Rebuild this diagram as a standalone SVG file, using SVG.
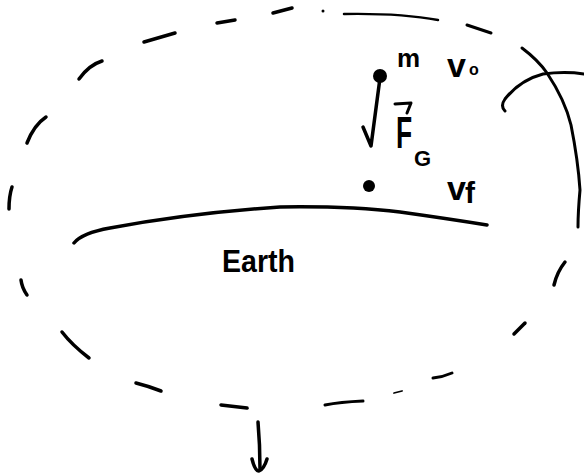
<svg xmlns="http://www.w3.org/2000/svg" width="584" height="476" viewBox="0 0 584 476">
<style>
.s{fill:none;stroke:#000;stroke-linecap:round;stroke-linejoin:round}
.d{stroke-width:3.5}
.t{font-family:"Liberation Sans",Arial,sans-serif;fill:#000;font-weight:bold}
</style>
<rect width="584" height="476" fill="#fff"/>
<g id="orbit" class="s d">
<path d="M273,13 L292,8"/>
<circle cx="323" cy="11" r="1.5" fill="#000" stroke="none"/>
<path d="M344,14 Q400,13 438,20" stroke-width="2.5"/>
<path d="M467,25 L491,33" stroke-width="3"/>
<path d="M565,262 Q557,272 554,285"/>
<path d="M525,323 L514,334"/>
<path d="M452,373 Q443,377 433,378" stroke-width="3"/>
<path d="M402,391 L394,393" stroke-width="1.8"/>
<path d="M363,401 Q340,402 325,405" stroke-width="3"/>
<path d="M247,408 L221,405"/>
<path d="M161,391 Q148,386 136,383"/>
<path d="M89,358 Q72,345 62,332"/>
<path d="M27,295 Q22,288 21,280"/>
<path d="M9,209 Q9,196 12,187"/>
<path d="M27,143 Q34,125 46,117"/>
<path d="M79,79 Q89,65 102,61"/>
<path d="M144,42 L175,33"/>
<path d="M217,23 L235,20"/>
</g>
<g id="side-view" class="s" stroke-width="3">
<path d="M505,111 Q500,106 505,99 Q520,80 543,74 Q565,71 584,74"/>
<path d="M522,48 Q538,60 547,73 Q565,100 571,125 Q578,160 580,190 Q578,212 578,227"/>
</g>
<g id="earth">
<path class="s" stroke-width="3.5" d="M74,243 Q82,233 110,228 Q190,213 280,207 Q350,206 400,212 Q450,219 487,225"/>
<text class="t" x="222" y="272" font-size="31" textLength="73" lengthAdjust="spacingAndGlyphs">Earth</text>
</g>
<g id="mass-start">
<circle cx="380" cy="76" r="7" fill="#000"/>
<text class="t" x="397" y="67" font-size="26">m</text>
<text class="t" x="447" y="77" font-size="34">v<tspan x="469" y="75" font-size="16">o</tspan></text>
</g>
<g id="mass-end">
<circle cx="369" cy="186" r="6" fill="#000"/>
<text class="t" x="447" y="200" font-size="34">v<tspan x="465" y="203" font-size="30">f</tspan></text>
</g>
<g id="connectors" class="s" stroke-width="3.5">
<path d="M363,127 L371,146 L380,78"/>
<path d="M258,422 Q260,445 260,469"/>
<path d="M252,459 Q255,471 259,471 Q264,469 267,459"/>
</g>
<g id="force-label">
<path class="s" stroke-width="3" d="M395,104 L411,103 L407,113"/>
<text class="t" transform="translate(396,148) scale(0.6,1)" font-size="44">F</text>
<text class="t" x="414" y="166" font-size="22">G</text>
</g>
</svg>
